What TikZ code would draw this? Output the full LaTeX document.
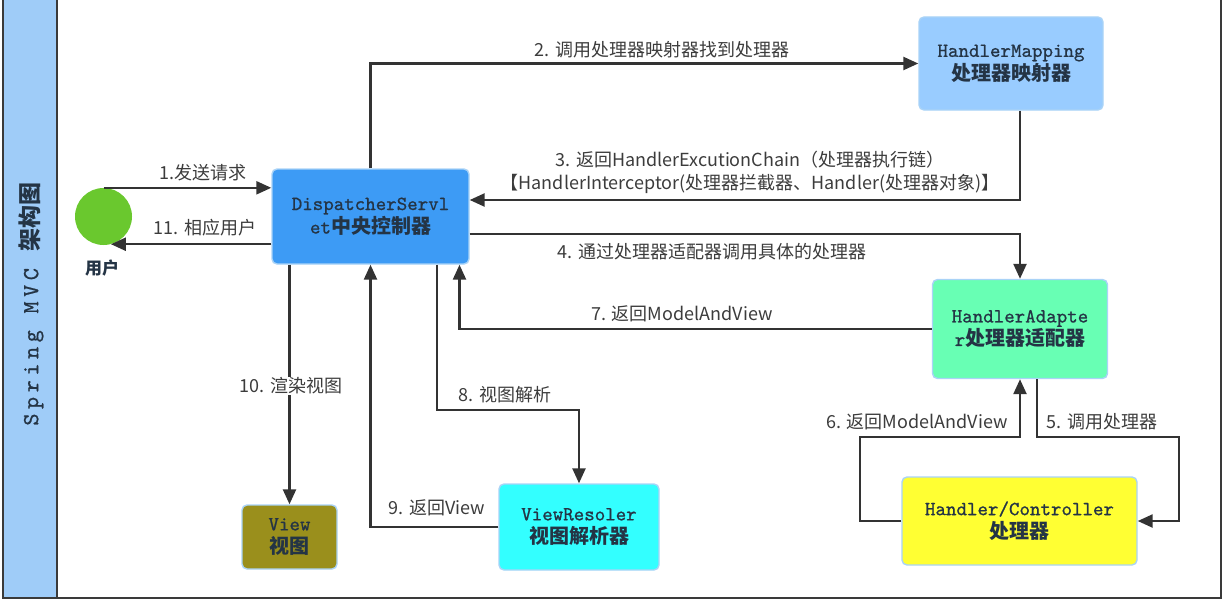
\documentclass[tikz,border=0pt]{standalone}
\usepackage{fontspec}
\usetikzlibrary{arrows.meta,shapes.geometric}
\newfontfamily\cjk{Noto Sans CJK SC}
\newfontfamily\mono[FakeBold=0.8]{lmmono10-regular.otf}
\newfontfamily\sidemono[LetterSpace=20,FakeBold=0.8]{lmmono10-regular.otf}

\definecolor{framec}{HTML}{3A3A3A}
\definecolor{sidebar}{HTML}{9FCCF8}
\definecolor{linec}{HTML}{333333}
\definecolor{lblc}{HTML}{3C3C3C}
\definecolor{boxtext}{HTML}{243445}
\definecolor{boxedge}{HTML}{A9D3F7}
\definecolor{usergreen}{HTML}{6AC82E}
\definecolor{dispblue}{HTML}{3D9BF5}
\definecolor{mapblue}{HTML}{99CCFF}
\definecolor{adaptgreen}{HTML}{68FFB4}
\definecolor{handyellow}{HTML}{FFFF33}
\definecolor{rescyan}{HTML}{33FFFF}
\definecolor{viewolive}{HTML}{9A8F1C}

\begin{document}
\begin{tikzpicture}[x=1pt,y=-1pt,
  box/.style={draw=boxedge, line width=1.4pt, rounded corners=5pt, inner sep=0pt,
    align=center, text=boxtext, font=\mono\fontsize{20}{23.5}\selectfont},
  flow/.style={draw=linec, line width=2.4pt, -{Triangle[length=15pt,width=13pt]}},
  lbl/.style={text=lblc, font=\cjk\fontsize{18}{23}\selectfont, inner sep=1pt, align=center}]

\useasboundingbox (0,0) rectangle (1224,602);

% outer frame and title band
\fill[sidebar] (3,0) rectangle (57,598);
\draw[framec, line width=2pt] (3,-2) -- (3,598) -- (1221,598) -- (1221,-2);
\draw[framec, line width=2pt] (57,-2) -- (57,598);
\node[rotate=90, text=boxtext, font=\sidemono\fontsize{23}{26}\selectfont] (title) at (31,304)
  {Spring MVC {\cjk\bfseries 架构图}};

% components
\node[ellipse, fill=usergreen, minimum width=57pt, minimum height=57pt, inner sep=0pt] (user) at (103.5,216.5) {};
\node[text=boxtext, font=\cjk\bfseries\fontsize{17}{20}\selectfont] (userlbl) at (102,268) {用户};

\node[box, fill=dispblue, minimum width=197pt, minimum height=95pt] (ds) at (370.5,216.5)
  {DispatcherServl\\et{\cjk\bfseries 中央控制器}};
\node[box, fill=mapblue, minimum width=184pt, minimum height=93pt] (hm) at (1011,63.5)
  {HandlerMapping\\{\cjk\bfseries 处理器映射器}};
\node[box, fill=adaptgreen, minimum width=175pt, minimum height=99pt] (ha) at (1020,329)
  {HandlerAdapte\\r{\cjk\bfseries 处理器适配器}};
\node[box, fill=handyellow, minimum width=235pt, minimum height=88pt] (hc) at (1019.5,521)
  {Handler/Controller\\{\cjk\bfseries 处理器}};
\node[box, fill=rescyan, minimum width=160pt, minimum height=86pt] (vr) at (579,527)
  {ViewResoler\\{\cjk\bfseries 视图解析器}};
\node[box, fill=viewolive, minimum width=95pt, minimum height=64pt] (view) at (289.5,537)
  {View\\{\cjk\bfseries 视图}};

% bend points
\coordinate (r5) at (1179,437);
\coordinate (l6) at (860,437);
\coordinate (m8) at (500,410);

% connectors
\draw[flow] (user.north) -- (user.north -| ds.west);
\draw[flow] (ds.west |- user.-75) -- (user.-75);
\draw[flow] (ds.north) |- (hm.west);
\draw[flow] ([xshift=9pt]hm.south) |- ([yshift=16.5pt]ds.east);
\draw[flow] ([yshift=-17.5pt]ds.east) -| (ha.north);
\draw[flow] ([xshift=17pt]ha.south) |- (r5) |- (hc.east);
\draw[flow] (hc.west) -| (l6) -| (ha.south);
\draw[flow] (ha.west) -| ([xshift=89pt]ds.south);
\draw[flow] ([xshift=66.5pt]ds.south) |- (m8) -| (vr.north);
\draw[flow] (vr.west) -| (ds.south);
\draw[flow] (view.north |- ds.south) -- (view.north);

% step labels
\node[lbl] (t1) at (203,173) {1.发送请求};
\node[lbl] (t11) at (205,228) {11. 相应用户};
\node[lbl] (t2) at (662,50) {2. 调用处理器映射器找到处理器};
\node[lbl] (t3) at (750,172.5) {3. 返回HandlerExcutionChain（处理器执行链）\\【HandlerInterceptor(处理器拦截器、Handler(处理器对象)】};
\node[lbl] (t4) at (712,252) {4. 通过处理器适配器调用具体的处理器};
\node[lbl] (t7) at (682,314) {7. 返回ModelAndView};
\node[lbl] (t5) at (1102,422) {5. 调用处理器};
\node[lbl] (t6) at (917,422) {6. 返回ModelAndView};
\node[lbl] (t8) at (505,395) {8. 视图解析};
\node[lbl] (t9) at (437,508) {9. 返回View};
\node[lbl, fill=white] (t10) at (291,386) {10. 渲染视图};
\end{tikzpicture}
\end{document}
